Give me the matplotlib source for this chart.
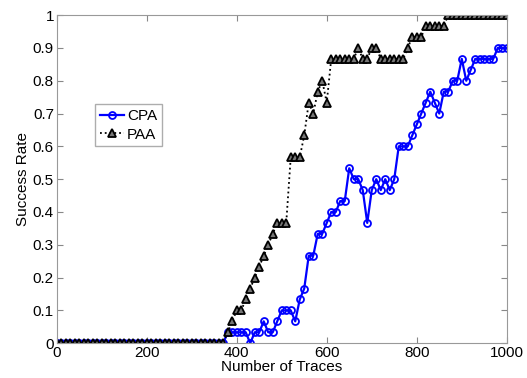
import numpy as np
import matplotlib
matplotlib.use('Agg')
import matplotlib.pyplot as plt

plt.rcParams['font.family'] = ['Liberation Sans', 'DejaVu Sans']

# number of traces, 0..1000 step 10
traces = np.arange(0, 1001, 10)

# success rates (multiples of 1/30), from 380 traces on
cpa_tail = [1, 1, 1, 1, 1, 0, 1, 1, 2, 1, 1, 2, 3, 3, 3, 2, 4, 5,
            8, 8, 10, 10, 11, 12, 12, 13, 13, 16, 15, 15, 14, 11, 14, 15,
            14, 15, 14, 15, 18, 18, 18, 19, 20, 21, 22, 23, 22, 21, 23, 23,
            24, 24, 26, 24, 25, 26, 26, 26, 26, 26, 27, 27, 27]
paa_tail = [1, 2, 3, 3, 4, 5, 6, 7, 8, 9, 10, 11, 11, 11, 17, 17, 17, 19,
            22, 21, 23, 24, 22, 26, 26, 26, 26, 26, 26, 27, 26, 26, 27, 27,
            26, 26, 26, 26, 26, 26, 27, 28, 28, 28, 29, 29, 29, 29, 29, 30,
            30, 30, 30, 30, 30, 30, 30, 30, 30, 30, 30, 30, 30]

n_zero = len(traces) - len(cpa_tail)
cpa = np.array([0] * n_zero + cpa_tail) / 30.0
paa = np.array([0] * n_zero + paa_tail) / 30.0

fig = plt.figure(figsize=(5.27, 3.78), dpi=100)
ax = fig.add_axes([0.1076, 0.092, 0.854, 0.868])

ax.plot(traces, cpa, '-o', color='#0000ff', lw=1.6, ms=5,
        mfc='none', mew=1.3, label='CPA')
ax.plot(traces, paa, ':^', color='black', lw=1.3, ms=5.5,
        mfc='#777777', mew=1.3, label='PAA')

ax.set_xlim(0, 1000)
ax.set_ylim(0, 1)
ax.set_xticks(np.arange(0, 1001, 200))
ax.set_yticks(np.arange(0, 1.01, 0.1))
ax.set_yticklabels(['0', '0.1', '0.2', '0.3', '0.4', '0.5', '0.6', '0.7',
                    '0.8', '0.9', '1'])
ax.tick_params(direction='in', top=True, right=True, labelsize=11,
               color='#888888', length=4, pad=2)
for s in ax.spines.values():
    s.set_color('#999999')

ax.set_xlabel('Number of Traces', fontsize=11, labelpad=0)
ax.set_ylabel('Success Rate', fontsize=11, labelpad=2)

leg = ax.legend(loc='upper left', bbox_to_anchor=(0.085, 0.728),
                fancybox=False, fontsize=11, handlelength=1.6,
                borderpad=0.3, labelspacing=0.3, handletextpad=0.2,
                borderaxespad=0)
leg.get_frame().set_edgecolor('#999999')
leg.get_frame().set_linewidth(1.0)

fig.savefig('out.png', dpi=100)
